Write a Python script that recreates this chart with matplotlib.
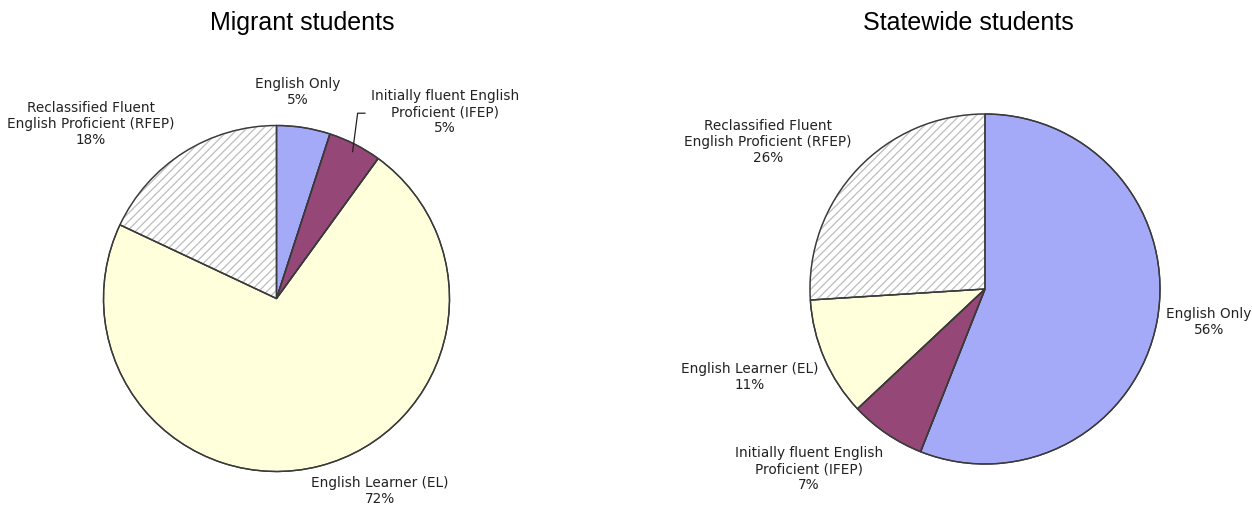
import matplotlib
matplotlib.use("Agg")
import matplotlib.pyplot as plt

# ---- data ----
categories = ["English Only", "Initially fluent English\nProficient (IFEP)",
              "English Learner (EL)", "Reclassified Fluent\nEnglish Proficient (RFEP)"]
migrant_values = [5, 5, 72, 18]
statewide_values = [56, 7, 11, 26]
titles = ["Migrant students", "Statewide students"]

colors = ["#A5AAF8", "#954878", "#FFFFDC", "#FFFFFF"]
hatches = [None, None, None, "////"]
edge_col = "#3a3a3a"
hatch_col = "#bdbdbd"
text_col = "#222222"

# label positions (in units of pie radius)
migrant_label_pos = [(0.124, 1.194), (0.974, 1.078), (0.598, -1.113), (-1.072, 1.009)]
statewide_label_pos = [(1.28, -0.189), (-1.006, -1.029), (-1.343, -0.503), (-1.24, 0.84)]

W, H = 1252, 505
fig = plt.figure(figsize=(W / 100, H / 100), dpi=100)
fig.patch.set_facecolor("white")
plt.rcParams["hatch.linewidth"] = 0.9


def draw_pie(px_left, px_top, px_size, values, label_pos):
    ax = fig.add_axes([px_left / W, (H - px_top - px_size) / H, px_size / W, px_size / H])
    wedges, _ = ax.pie(values, startangle=90, counterclock=False, colors=colors,
                       radius=1.0, wedgeprops=dict(linewidth=1.0, edgecolor=hatch_col))
    for w, h in zip(wedges, hatches):
        if h:
            w.set_hatch(h)
        else:
            w.set_edgecolor(edge_col)
    # outline pass
    ax.pie(values, startangle=90, counterclock=False, radius=1.0,
           wedgeprops=dict(fill=False, linewidth=1.0, edgecolor=edge_col))
    for cat, v, (x, y) in zip(categories, values, label_pos):
        ax.text(x, y, f"{cat}\n{v}%", ha="center", va="center", fontsize=9.8,
                color=text_col, family="DejaVu Sans", linespacing=1.2, clip_on=False)
    ax.set_xlim(-1, 1)
    ax.set_ylim(-1, 1)
    ax.set_aspect("equal")
    ax.axis("off")
    return ax


ax1 = draw_pie(103.5, 125.5, 346, migrant_values, migrant_label_pos)
ax1.plot([0.440, 0.469, 0.511], [0.849, 1.071, 1.071], color="#222222", lw=0.9,
         clip_on=False)
ax2 = draw_pie(810, 114, 350, statewide_values, statewide_label_pos)

fig.text(302 / W, 1 - 23 / H, titles[0], ha="center", va="center", fontsize=18,
         family="Liberation Sans", color="black")
fig.text(968 / W, 1 - 23 / H, titles[1], ha="center", va="center", fontsize=18,
         family="Liberation Sans", color="black")

fig.savefig("out.png", dpi=100, facecolor="white")
